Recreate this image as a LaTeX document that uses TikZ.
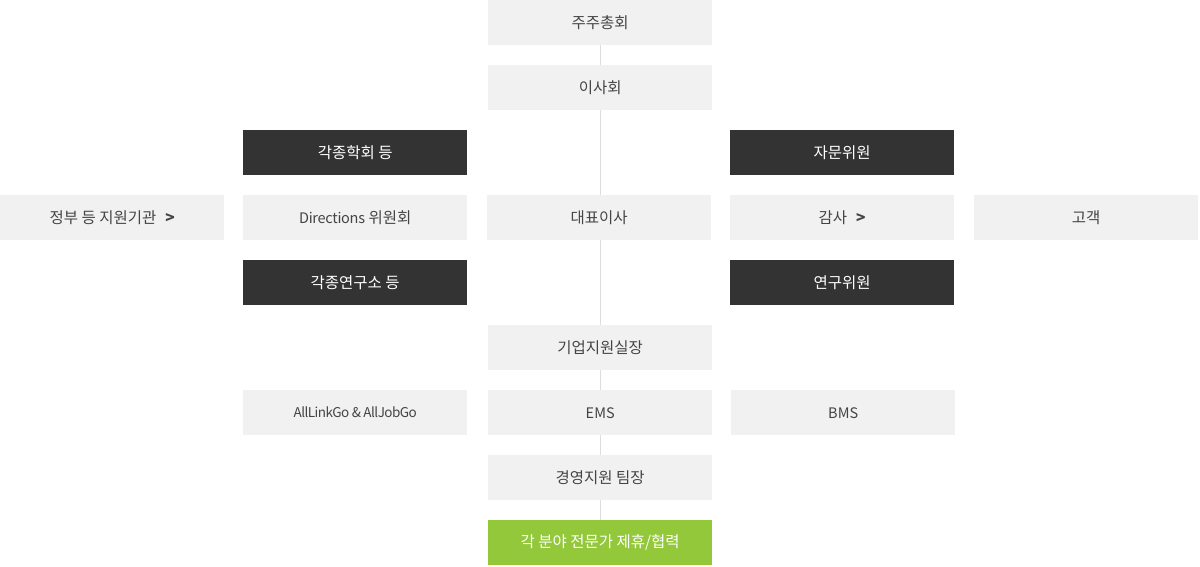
\documentclass[tikz,border=0pt]{standalone}
\usepackage{fontspec}
\setmainfont{Noto Sans CJK KR}
\definecolor{lightbox}{HTML}{F1F1F1}
\definecolor{darkbox}{HTML}{333333}
\definecolor{greenbox}{HTML}{92C83A}
\definecolor{txt}{HTML}{444444}
\definecolor{linec}{HTML}{DDDDDD}
\begin{document}
\begin{tikzpicture}[x=1pt,y=1pt,
  box/.style={anchor=north west,minimum width=224pt,minimum height=45pt,inner sep=0pt,font=\fontsize{15.5}{17}\selectfont},
  lbox/.style={box,fill=lightbox,text=txt},
  dbox/.style={box,fill=darkbox,text=white},
  gbox/.style={box,fill=greenbox,text=white},
  conn/.style={draw=linec,line width=1pt}]
\useasboundingbox (0,0) rectangle (1200,-566);
\node[lbox] (a) at (488,0) {주주총회};
\node[lbox] (b) at (488,-65) {이사회};
\node[dbox] (c1) at (243,-130) {각종학회 등};
\node[dbox] (c2) at (730,-130) {자문위원};
\node[lbox] (d1) at (0,-195) {정부 등 지원기관\hspace{9pt}\textbf{>}};
\node[lbox] (d2) at (243,-195) {{\fontsize{14.5}{17}\selectfont\addfontfeatures{LetterSpace=-2}Directions} 위원회};
\node[lbox] (d3) at (487,-195) {대표이사};
\node[lbox] (d4) at (730,-195) {감사\hspace{9pt}\textbf{>}};
\node[lbox] (d5) at (974,-195) {고객};
\node[dbox] (e1) at (243,-260) {각종연구소 등};
\node[dbox] (e2) at (730,-260) {연구위원};
\node[lbox] (f) at (488,-325) {기업지원실장};
\node[lbox,font=\fontsize{13.5}{16}\selectfont] (g1) at (243,-390) {\addfontfeatures{LetterSpace=-4}AllLinkGo \& AllJobGo};
\node[lbox,font=\fontsize{14.5}{16}\selectfont] (g2) at (488,-390) {EMS};
\node[lbox,font=\fontsize{14.5}{16}\selectfont] (g3) at (731,-390) {BMS};
\node[lbox] (h) at (488,-455) {경영지원 팀장};
\node[gbox] (i) at (488,-520) {각 분야 전문가 제휴/협력};
\draw[conn] (a.south) -- (b.north);
\draw[conn] (b.south) -- (d3.north -| b.south);
\draw[conn] (d3.south -| f.north) -- (f.north);
\draw[conn] (f.south) -- (g2.north);
\draw[conn] (g2.south) -- (h.north);
\draw[conn] (h.south) -- (i.north);
\end{tikzpicture}
\end{document}
